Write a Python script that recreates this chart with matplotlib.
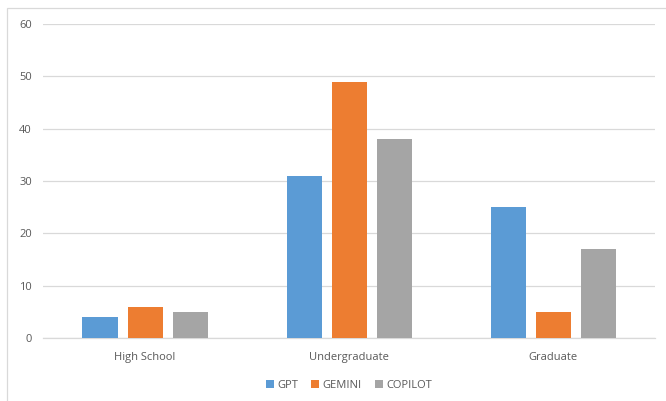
import matplotlib
matplotlib.use("Agg")
import matplotlib.pyplot as plt
import numpy as np
from matplotlib.patches import Rectangle

categories = ["High School", "Undergraduate", "Graduate"]
series_names = ["GPT", "GEMINI", "COPILOT"]
gpt = [4, 31, 25]
gemini = [6, 49, 5]
copilot = [5, 38, 17]
colors = ["#5B9BD5", "#ED7D31", "#A5A5A5"]

W, H = 666, 401
fig = plt.figure(figsize=(W/100, H/100), dpi=100)
ax = fig.add_axes([43/W, (H-338)/H, (655-43)/W, (338-24)/H])

x = np.arange(len(categories))
bw = 35/204
step = 45/204
for i, (vals, c, name) in enumerate(zip([gpt, gemini, copilot], colors, series_names)):
    ax.bar(x + (i-1)*step, vals, width=bw, color=c, label=name, zorder=3)

ax.set_xlim(-0.5, 2.5)
ax.set_ylim(0, 60)
ax.set_yticks(range(0, 61, 10))
ax.grid(axis="y", color="#D9D9D9", linewidth=0.9, zorder=0)
for s in ["top", "right", "left"]:
    ax.spines[s].set_visible(False)
ax.spines["bottom"].set_color("#D9D9D9")
ax.spines["bottom"].set_linewidth(0.9)
ax.tick_params(axis="both", length=0, labelsize=8, colors="#595959", pad=8)
ax.tick_params(axis="x", pad=10)
ax.set_xticks(x)
ax.set_xticklabels(categories)
for t in ax.get_xticklabels() + ax.get_yticklabels():
    t.set_fontfamily("Open Sans")

leg = ax.legend(loc="center", bbox_to_anchor=(0.5, -0.15), ncol=3, frameon=False,
                handlelength=0.7, handleheight=0.7, handletextpad=0.3, columnspacing=1.2,
                prop={"family": "Open Sans", "size": 8})
for t in leg.get_texts():
    t.set_color("#595959")

fig.patches.append(Rectangle((7/W, -0.1), 1.2, (H-8)/H + 0.1, transform=fig.transFigure,
                             fill=False, edgecolor="#D9D9D9", linewidth=0.9))
fig.savefig("out.png", dpi=100)
